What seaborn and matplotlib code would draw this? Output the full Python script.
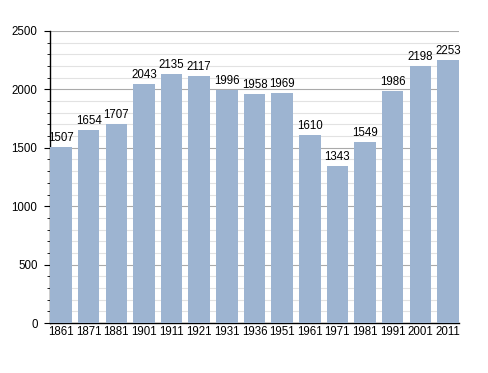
import numpy as np
import pandas as pd
import matplotlib
matplotlib.use("Agg")
import matplotlib.pyplot as plt
import seaborn as sns
from matplotlib.ticker import MultipleLocator

YEARS  = ["1861", "1871", "1881", "1901", "1911", "1921", "1931", "1936",
          "1951", "1961", "1971", "1981", "1991", "2001", "2011"]
POP    = [1507, 1654, 1707, 2043, 2135, 2117, 1996, 1958,
          1969, 1610, 1343, 1549, 1986, 2198, 2253]
BAR_COLOR = "#9db4d1"

sns.set_style("white")
plt.rcParams["font.family"] = ["Liberation Sans", "DejaVu Sans"]
plt.rcParams["text.color"] = "black"
plt.rcParams["xtick.color"] = "black"
plt.rcParams["ytick.color"] = "black"

df = pd.DataFrame({"year": YEARS, "pop": POP})

fig = plt.figure(figsize=(4.88, 3.73), dpi=100)
ax = fig.add_axes([0.1025, 0.134, 0.838, 0.783])

sns.barplot(data=df, x="year", y="pop", color=BAR_COLOR, width=0.78,
            saturation=1, linewidth=0, ax=ax, zorder=3)

for i, v in enumerate(POP):
    ax.text(i, v + 25, str(v), ha="center", va="bottom", fontsize=8.3,
            color="black", zorder=4)

ax.set_ylim(0, 2500)
ax.set_xlim(-0.4, len(YEARS) - 0.6)
ax.yaxis.set_major_locator(MultipleLocator(500))
ax.yaxis.set_minor_locator(MultipleLocator(100))
ax.grid(axis="y", which="major", color="#aaaaaa", linewidth=0.8, zorder=0)
ax.grid(axis="y", which="minor", color="#e2e2e2", linewidth=0.8, zorder=0)
ax.set_axisbelow(True)

for s in ["top", "right"]:
    ax.spines[s].set_visible(False)
for s in ["left", "bottom"]:
    ax.spines[s].set_color("black")
    ax.spines[s].set_linewidth(1.0)

ax.tick_params(axis="y", which="major", left=True, length=4, width=0.8,
               labelsize=8.3, pad=5)
ax.tick_params(axis="y", which="minor", left=True, length=2.5, width=0.6)
ax.tick_params(axis="x", bottom=False, length=0, labelsize=8.3, pad=2)
ax.set_xlabel("")
ax.set_ylabel("")

fig.savefig("out.png", dpi=100)
